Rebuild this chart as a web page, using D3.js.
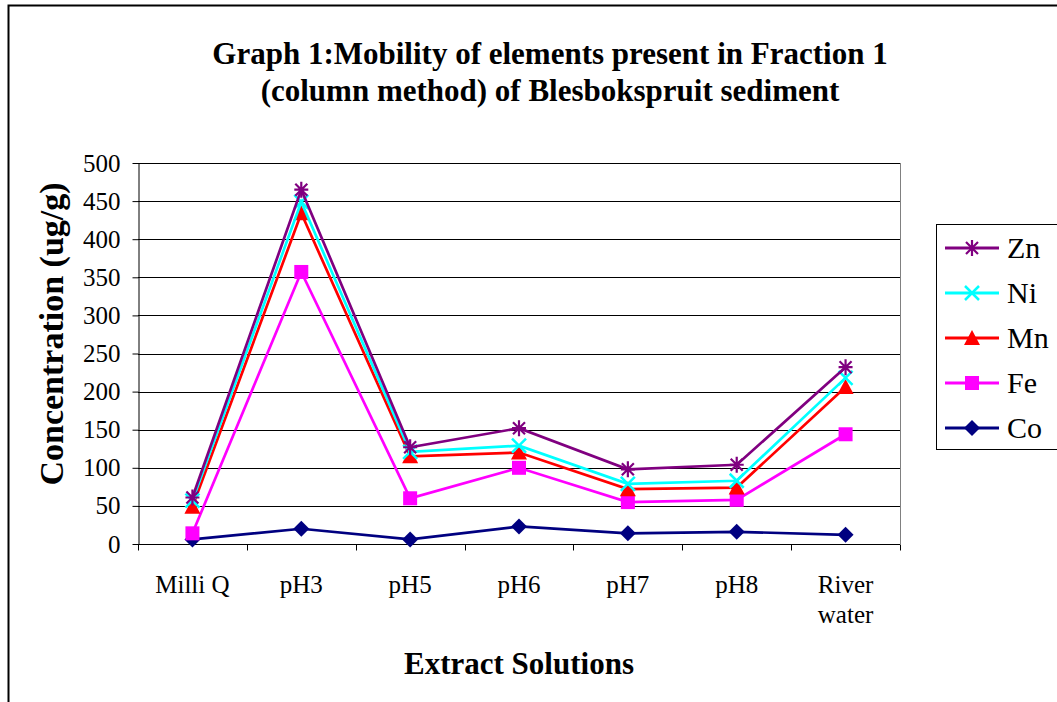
<!DOCTYPE html>
<html>
<head>
<meta charset="utf-8">
<script src="https://cdn.jsdelivr.net/npm/d3@7"></script>
<style>
  body { margin: 0; background: #fff; }
  svg { display: block; }
  svg text { font-family: "Liberation Serif", "Times New Roman", serif; }
</style>
</head>
<body>
<div id="chart"></div>
<script>
// Chart data
const categories = ["Milli Q", "pH3", "pH5", "pH6", "pH7", "pH8", "River water"];
const yTicks = [0, 50, 100, 150, 200, 250, 300, 350, 400, 450, 500];

const zn = [61, 465, 127, 152, 98, 104, 232];
const ni = [57, 449, 121, 129, 79, 83, 218];
const mn = [49, 434, 115, 120, 72, 74, 206];
const fe = [14, 357, 60, 100, 55, 58, 144];
const co = [6, 20, 6, 23, 14, 16, 12];

const seriesNames = ["Zn", "Ni", "Mn", "Fe", "Co"];
const seriesValues = [zn, ni, mn, fe, co];
const seriesColors = ["#800080", "#00ffff", "#ff0000", "#ff00ff", "#000080"];
const seriesSymbols = ["star", "x", "triangle", "square", "diamond"];

// Dimensions
const width = 1057;
const height = 702;
const marginLeft = 138;
const marginRight = 157;
const marginTop = 163;
const marginBottom = 158;
const serif = "Liberation Serif";

const svg = d3.select("#chart")
  .append("svg")
  .attr("width", width)
  .attr("height", height);

// outer chart border (runs off the right and bottom edge)
svg.append("rect")
  .attr("x", 8.5).attr("y", 5.5)
  .attr("width", width + 20).attr("height", height + 20)
  .attr("fill", "none").attr("stroke", "#000").attr("stroke-width", 2);

// Scales
const x = d3.scaleBand()
  .domain(categories)
  .range([marginLeft, width - marginRight]);

const y = d3.scaleLinear()
  .domain([0, 500])
  .range([height - marginBottom, marginTop]);

// gridlines
svg.append("g")
  .selectAll("line")
  .data(yTicks.filter(d => d > 0))
  .join("line")
  .attr("x1", marginLeft).attr("x2", width - marginRight)
  .attr("y1", d => Math.round(y(d)) + 0.5).attr("y2", d => Math.round(y(d)) + 0.5)
  .attr("stroke", "#000").attr("stroke-width", 1);

// right border of plot area
svg.append("line")
  .attr("x1", width - marginRight + 0.5).attr("x2", width - marginRight + 0.5)
  .attr("y1", marginTop).attr("y2", height - marginBottom)
  .attr("stroke", "#808080").attr("stroke-width", 1);

// y axis
const yAxis = svg.append("g")
  .attr("transform", `translate(${marginLeft + 0.5},0)`)
  .call(d3.axisLeft(y).tickValues(yTicks).tickSize(6).tickPadding(12).tickSizeOuter(0));
yAxis.selectAll("text").attr("font-size", 25).attr("font-family", serif).attr("fill", "#000");
yAxis.select(".domain").attr("stroke", "#000");

// x axis with ticks between categories
const xAxisG = svg.append("g")
  .attr("transform", `translate(0,${Math.round(y(0)) + 0.5})`);
xAxisG.append("line")
  .attr("x1", marginLeft).attr("x2", width - marginRight)
  .attr("stroke", "#000");
const edges = categories.map(c => x(c)).concat([x(categories[categories.length - 1]) + x.bandwidth()]);
xAxisG.selectAll("line.tick")
  .data(edges)
  .join("line")
  .attr("class", "tick")
  .attr("x1", d => Math.round(d) + 0.5).attr("x2", d => Math.round(d) + 0.5)
  .attr("y1", 0).attr("y2", 6)
  .attr("stroke", "#000");
xAxisG.selectAll("text")
  .data(categories)
  .join("text")
  .attr("x", d => x(d) + x.bandwidth() / 2)
  .attr("text-anchor", "middle")
  .attr("font-family", serif)
  .attr("font-size", 25)
  .attr("fill", "#000")
  .each(function (d) {
    const words = d === "River water" ? ["River", "water"] : [d];
    d3.select(this).selectAll("tspan")
      .data(words)
      .join("tspan")
      .attr("x", x(d) + x.bandwidth() / 2)
      .attr("y", (w, i) => 48 + i * 30)
      .text(w => w);
  });

// Symbol drawing
function drawSymbol(g, type, color) {
  if (type === "star") {
    g.append("path")
      .attr("d", "M-7,0H7M0,-8V8M-6,-6L6,6M-6,6L6,-6")
      .attr("stroke", color).attr("stroke-width", 2.2).attr("fill", "none");
  } else if (type === "x") {
    g.append("path")
      .attr("d", "M-7,-7L7,7M-7,7L7,-7")
      .attr("stroke", color).attr("stroke-width", 2.5).attr("fill", "none");
  } else if (type === "triangle") {
    g.append("path")
      .attr("d", "M0,-8L8,7H-8Z")
      .attr("fill", color);
  } else if (type === "square") {
    g.append("rect")
      .attr("x", -7).attr("y", -7).attr("width", 14).attr("height", 14)
      .attr("fill", color);
  } else if (type === "diamond") {
    g.append("path")
      .attr("d", "M0,-8L8,0L0,8L-8,0Z")
      .attr("fill", color);
  }
}

const line = d3.line()
  .x((d, i) => x(categories[i]) + x.bandwidth() / 2)
  .y(d => y(d));

// draw series, back to front
for (let s = seriesNames.length - 1; s >= 0; s--) {
  const vals = seriesValues[s];
  svg.append("path")
    .datum(vals)
    .attr("d", line)
    .attr("fill", "none")
    .attr("stroke", seriesColors[s])
    .attr("stroke-width", 2.7);
  vals.forEach((v, i) => {
    const g = svg.append("g")
      .attr("transform", `translate(${x(categories[i]) + x.bandwidth() / 2},${y(v)})`);
    drawSymbol(g, seriesSymbols[s], seriesColors[s]);
  });
}

// Title
svg.append("text")
  .attr("x", 550).attr("text-anchor", "middle")
  .attr("font-family", serif)
  .attr("font-size", 31).attr("font-weight", "bold").attr("fill", "#000")
  .selectAll("tspan")
  .data(["Graph 1:Mobility of elements present in Fraction 1", "(column method) of Blesbokspruit sediment"])
  .join("tspan")
  .attr("x", 550)
  .attr("y", (d, i) => 64 + i * 37)
  .text(d => d);

// axis titles
svg.append("text")
  .attr("transform", "translate(63,334) rotate(-90)")
  .attr("text-anchor", "middle")
  .attr("font-family", serif)
  .attr("font-size", 34).attr("font-weight", "bold").attr("fill", "#000")
  .text("Concentration (ug/g)");

svg.append("text")
  .attr("x", 519).attr("y", 674)
  .attr("text-anchor", "middle")
  .attr("font-family", serif)
  .attr("font-size", 31).attr("font-weight", "bold").attr("fill", "#000")
  .text("Extract Solutions");

// Legend
const legend = svg.append("g");
legend.append("rect")
  .attr("x", 936.5).attr("y", 224.5)
  .attr("width", 130).attr("height", 225)
  .attr("fill", "#fff").attr("stroke", "#000").attr("stroke-width", 1);
seriesNames.forEach((name, i) => {
  const ly = 248 + i * 45;
  const g = legend.append("g");
  g.append("line")
    .attr("x1", 945).attr("x2", 999)
    .attr("y1", ly).attr("y2", ly)
    .attr("stroke", seriesColors[i]).attr("stroke-width", 3);
  drawSymbol(g.append("g").attr("transform", `translate(972,${ly})`), seriesSymbols[i], seriesColors[i]);
  g.append("text")
    .attr("x", 1007).attr("y", ly + 10)
    .attr("font-family", serif)
    .attr("font-size", 30).attr("fill", "#000")
    .text(name);
});
</script>
</body>
</html>
